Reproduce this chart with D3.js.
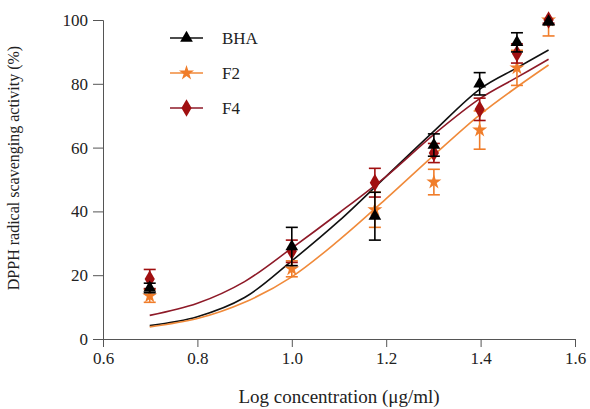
<!DOCTYPE html>
<html>
<head>
<meta charset="utf-8">
<script src="https://cdn.jsdelivr.net/npm/d3@7"></script>
<style>
  body { margin: 0; background: #fff; }
  svg { display: block; font-family: "Liberation Serif", "Times New Roman", serif; }
  .axis path, .axis line { stroke: #555; }
  .axis text { font-family: "Liberation Serif", serif; font-size: 17px; fill: #222; }
</style>
</head>
<body>
<svg></svg>
<script>
// Measured points (log concentration)
const logConc = [0.699, 1.0, 1.176, 1.301, 1.398, 1.477, 1.544];
const bhaMean = [16, 29, 38.5, 60.8, 80, 93, 99.5];
const bhaErr = [1.5, 6, 7.5, 3.5, 3.5, 3, 1];
const f2Mean = [13.5, 22, 40.5, 49.2, 65.5, 85, 100];
const f2Err = [2, 2.5, 5.5, 4, 6, 5.5, 5];
const f4Mean = [18.8, 27.5, 49, 58.3, 72, 89.5, 100];
const f4Err = [3, 3.5, 4.5, 3, 3.5, 3, 1];

// Fitted curves
const fitX = [0.699, 0.8, 0.9, 1.0, 1.1, 1.2, 1.3, 1.4, 1.477, 1.544];
const bhaFit = [4.2, 7, 13, 24.5, 37, 51, 65, 78.5, 85, 90.6];
const f2Fit = [3.8, 6.4, 11.5, 19.5, 31, 44, 57.5, 70.5, 79, 85.9];
const f4Fit = [7.4, 11.2, 18, 28.5, 39.5, 51, 64, 75.5, 82, 87.7];

const xTicks = [0.6, 0.8, 1.0, 1.2, 1.4, 1.6];
const yTicks = [0, 20, 40, 60, 80, 100];

const series = [
  { name: "BHA", mean: bhaMean, err: bhaErr, fit: bhaFit, color: "#000000", line: "#111111", shape: d3.symbolTriangle, size: 70 },
  { name: "F2", mean: f2Mean, err: f2Err, fit: f2Fit, color: "#f07d2a", line: "#f08a3a", shape: d3.symbolStar, size: 70 },
  { name: "F4", mean: f4Mean, err: f4Err, fit: f4Fit, color: "#a00f10", line: "#8e1a28", shape: d3.symbolDiamond, size: 90 }
];

const W = 590, H = 409;
const margin = { l: 103, r: 15, t: 20, b: 70 };
const width = W - margin.l - margin.r;
const height = H - margin.t - margin.b;

const svg = d3.select("svg").attr("width", W).attr("height", H);
const g = svg.append("g").attr("transform", `translate(${margin.l}, ${margin.t})`);

const x = d3.scaleLinear().domain([0.6, 1.6]).range([0, width]);
const y = d3.scaleLinear().domain([0, 100]).range([height, 0]);

// Axes
g.append("g")
  .attr("class", "axis")
  .attr("transform", `translate(0, ${height})`)
  .call(d3.axisBottom(x).tickValues(xTicks).tickFormat(d3.format(".1f")).tickSizeOuter(0).tickSize(8).tickPadding(5))
  .attr("font-family", "Liberation Serif")
  .attr("font-size", 17);

g.append("g")
  .attr("class", "axis")
  .call(d3.axisLeft(y).tickValues(yTicks).tickSizeOuter(0).tickSize(10).tickPadding(5))
  .attr("font-family", "Liberation Serif")
  .attr("font-size", 17);

// Titles
svg.append("text")
  .attr("x", margin.l + width / 2)
  .attr("y", 403)
  .attr("text-anchor", "middle")
  .style("font-size", "19px")
  .attr("fill", "#222")
  .text("Log concentration (μg/ml)");

svg.append("text")
  .attr("transform", "translate(19, 168) rotate(-90)")
  .attr("text-anchor", "middle")
  .style("font-size", "16px")
  .attr("fill", "#222")
  .text("DPPH radical scavenging activity (%)");

// Fit curves
const line = d3.line().x((d, i) => x(fitX[i])).y(d => y(d)).curve(d3.curveCatmullRom);
series.forEach(s => {
  g.append("path")
    .attr("d", line(s.fit))
    .attr("fill", "none")
    .attr("stroke", s.line)
    .attr("stroke-width", 1.6);
});

// Error bars and markers (bars cut at 100 %)
const capW = 6;
[series[1], series[2], series[0]].forEach(s => {
  const grp = g.append("g");
  s.mean.forEach((m, i) => {
    const cx = x(logConc[i]);
    const top = m + s.err[i];
    const lo = y(m - s.err[i]), hi = y(Math.min(top, 100));
    grp.append("line").attr("x1", cx).attr("x2", cx).attr("y1", lo).attr("y2", hi)
      .attr("stroke", s.color).attr("stroke-width", 1.6);
    const caps = top > 100 ? [lo] : [lo, hi];
    caps.forEach(yy => {
      grp.append("line").attr("x1", cx - capW).attr("x2", cx + capW).attr("y1", yy).attr("y2", yy)
        .attr("stroke", s.color).attr("stroke-width", 1.6);
    });
  });
  grp.selectAll("path.mk")
    .data(s.mean)
    .enter()
    .append("path")
      .attr("class", "mk")
      .attr("d", d3.symbol().type(s.shape).size(s.size))
      .attr("transform", (d, i) => `translate(${x(logConc[i])}, ${y(d)})`)
      .attr("fill", s.color);
});

// Legend
const legend = svg.append("g").attr("transform", "translate(170, 38)");
series.forEach((s, i) => {
  const row = legend.append("g").attr("transform", `translate(0, ${i * 35})`);
  row.append("line").attr("x1", 0).attr("x2", 33).attr("y1", 0).attr("y2", 0)
    .attr("stroke", s.line).attr("stroke-width", 1.6);
  row.append("path")
    .attr("d", d3.symbol().type(s.shape).size(s.size))
    .attr("transform", "translate(16.5, 0)")
    .attr("fill", s.color);
  row.append("text")
    .attr("x", 52).attr("y", 6)
    .style("font-size", "17px")
    .attr("fill", "#222")
    .text(s.name);
});
</script>
</body>
</html>
